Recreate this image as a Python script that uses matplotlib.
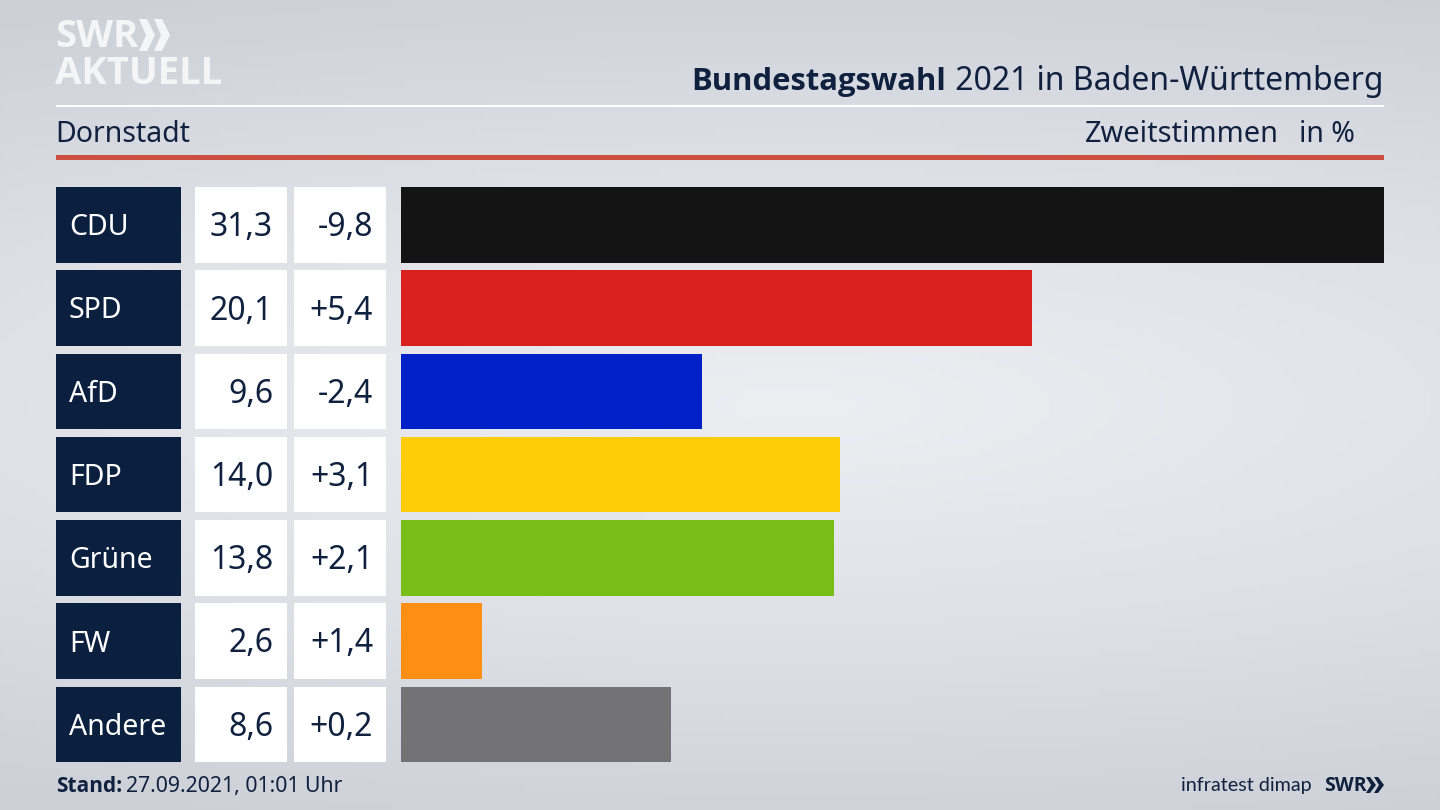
import numpy as np
import matplotlib
matplotlib.use("Agg")
import matplotlib.pyplot as plt
from matplotlib.patches import Rectangle, Polygon
from matplotlib.colors import LinearSegmentedColormap

parties = ["CDU", "SPD", "AfD", "FDP", "Grüne", "FW", "Andere"]
shares = [31.3, 20.1, 9.6, 14.0, 13.8, 2.6, 8.6]
changes = ["-9,8", "+5,4", "-2,4", "+3,1", "+2,1", "+1,4", "+0,2"]
colors = ["#141414", "#da201f", "#0020c8", "#ffcc08", "#79bd18", "#ff8e14", "#737375"]

plt.rcParams["font.family"] = ["Noto Sans", "DejaVu Sans"]
BOLD = ["Open Sans", "DejaVu Sans"]
NAVY = "#0b1f3f"
TXT = "#10213f"
LOGO = "#f4f5f7"

fig = plt.figure(figsize=(14.4, 8.1), dpi=100)
ax = fig.add_axes([0, 0, 1, 1])
ax.set_xlim(0, 1440)
ax.set_ylim(810, 0)
ax.axis("off")

# background gradient
yy, xx = np.mgrid[0:1:162j, 0:1:288j]
d = np.clip(np.sqrt(((xx - 0.55) / 1.15) ** 2 + ((yy - 0.5) / 0.55) ** 2), 0, 1)
cmap = LinearSegmentedColormap.from_list("bg", ["#eceef2", "#dfe1e7", "#cdd0d7"])
ax.imshow(d, extent=(0, 1440, 810, 0), cmap=cmap, vmin=0, vmax=1, aspect="auto", zorder=0)

# header rules
ax.add_patch(Rectangle((56, 104.5), 1328, 2.5, color="white", lw=0, zorder=1))
ax.add_patch(Rectangle((56, 155), 1328, 5, color="#cc4f3f", lw=0, zorder=1))

# logo
ax.text(55, 37, "SWR", color=LOGO, fontsize=27.5, fontweight="bold", va="center", ha="left",
        family=BOLD, zorder=2)
ax.text(55, 74, "AKTUELL", color=LOGO, fontsize=27.5, fontweight="bold", va="center", ha="left",
        family=BOLD, zorder=2)
for dx in (0, 15):
    ax.add_patch(Polygon([(139 + dx, 19), (147 + dx, 19), (155 + dx, 35), (147 + dx, 51), (139 + dx, 51), (146 + dx, 35)],
                         color=LOGO, lw=0, zorder=2))

# title
fig.canvas.draw()
r = fig.canvas.get_renderer()
t2 = ax.text(1383.5, 82, " 2021 in Baden-Württemberg", color=TXT, fontsize=23, va="center", ha="right", zorder=2)
x0 = t2.get_window_extent(r).x0
ax.text(x0 - 1, 82, "Bundestagswahl", color=TXT, fontsize=22.3, fontweight="bold", family=BOLD,
        va="center", ha="right", zorder=2)

ax.text(55, 134, "Dornstadt", color=TXT, fontsize=20.5, va="center", ha="left", zorder=2)
ax.text(1278.5, 134, "Zweitstimmen", color=TXT, fontsize=20.8, va="center", ha="right", zorder=2)
ax.text(1355, 134, "in %", color=TXT, fontsize=20.5, va="center", ha="right", zorder=2)

# rows
TOP, H, STEP = 187, 75.5, 83.25
for i, (p, s, c) in enumerate(zip(parties, shares, changes)):
    y = TOP + i * STEP
    ax.add_patch(Rectangle((56, y), 125, H, color=NAVY, lw=0, zorder=1))
    ax.add_patch(Rectangle((195, y), 92, H, color="white", lw=0, zorder=1))
    ax.add_patch(Rectangle((294, y), 92, H, color="white", lw=0, zorder=1))
    ym = y + H / 2 + 3
    ax.text(69, ym, p, color="white", fontsize=20.5, va="center", ha="left", zorder=2)
    ax.text(273, ym, f"{s:.1f}".replace(".", ","), color=TXT, fontsize=23, va="center", ha="right", zorder=2)
    ax.text(373, ym, c, color=TXT, fontsize=23, va="center", ha="right", zorder=2)

# bars
bx = fig.add_axes([400.5 / 1440, 1 - (TOP + 6 * STEP + H) / 810, 983.5 / 1440, (6 * STEP + H) / 810])
bx.patch.set_alpha(0)
bx.axis("off")
bx.barh(range(len(parties)), shares, height=H / STEP, color=colors)
bx.set_xlim(0, max(shares))
bx.set_ylim(6 + H / STEP / 2, -H / STEP / 2)

# footer
t = ax.text(56, 786.5, "Stand:", color=TXT, fontsize=15, fontweight="bold", family=BOLD,
            va="center", ha="left", zorder=2)
x1 = t.get_window_extent(r).x1
ax.text(x1 + 4, 786.5, "27.09.2021, 01:01 Uhr", color=TXT, fontsize=15.3, va="center", ha="left", zorder=2)
ax.text(1312, 786, "infratest dimap", color=TXT, fontsize=14.2, family=["Lato", "DejaVu Sans"],
        va="center", ha="right", zorder=2)
ax.text(1324, 786, "SWR", color=TXT, fontsize=14, fontweight="bold", va="center", ha="left", family=BOLD, zorder=2)
for dx in (0, 8):
    ax.add_patch(Polygon([(1366 + dx, 777), (1370 + dx, 777), (1376 + dx, 785), (1370 + dx, 793), (1366 + dx, 793), (1371 + dx, 785)],
                         color=TXT, lw=0, zorder=2))

fig.savefig("out.png", dpi=100)
